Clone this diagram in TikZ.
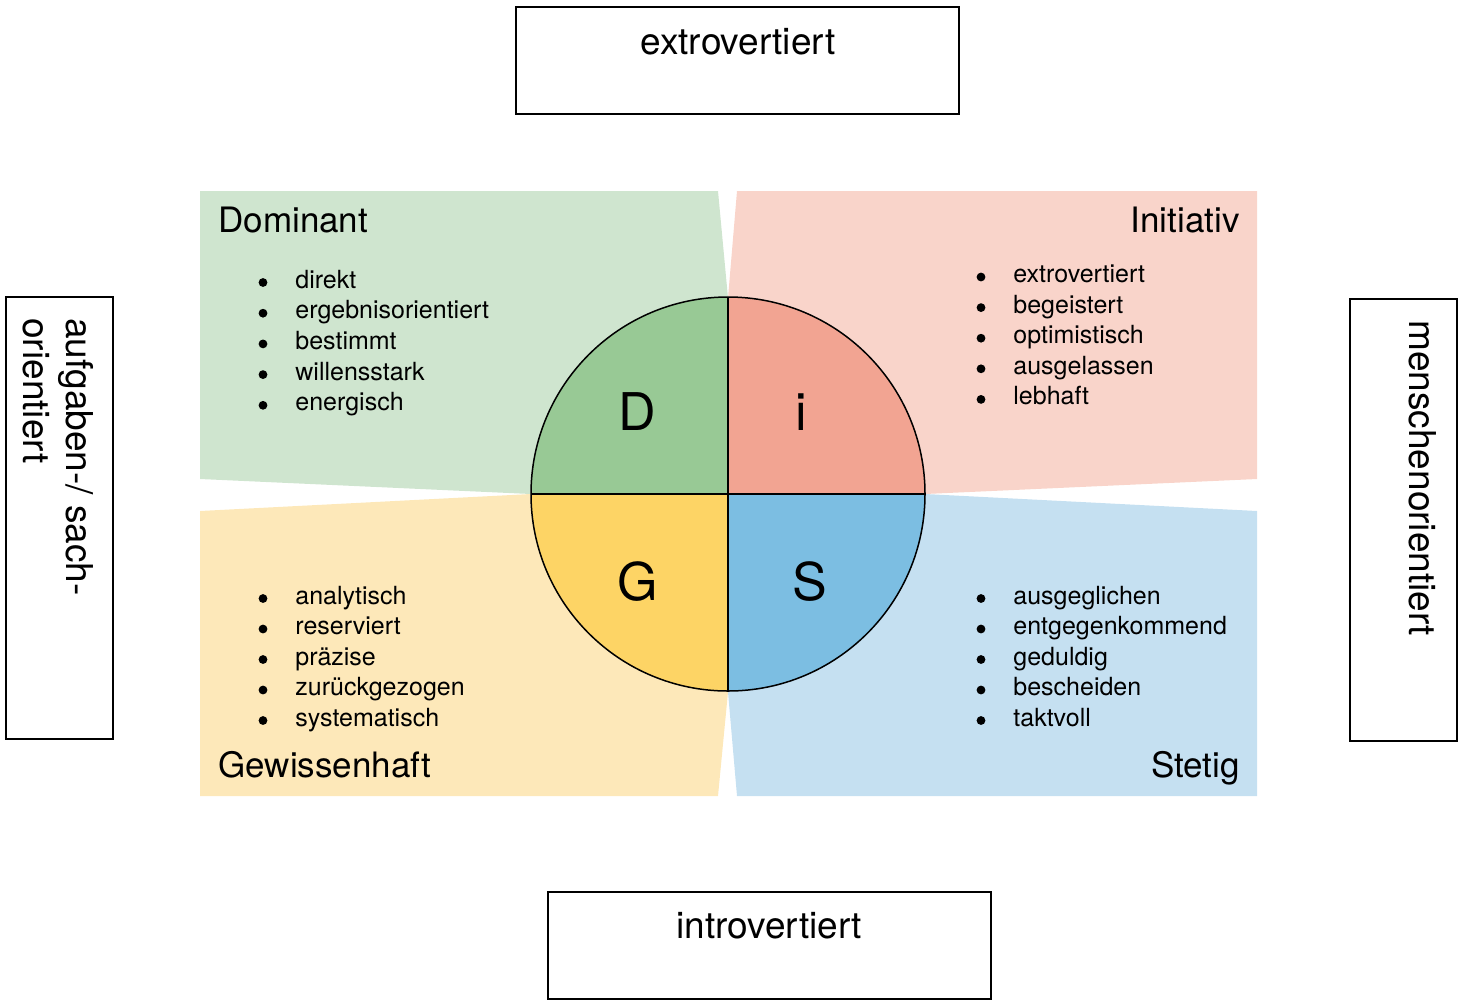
\documentclass[tikz,border=0pt]{standalone}
\usepackage{fontspec}
\setmainfont{TeX Gyre Heros}
\definecolor{bgG}{RGB}{207,229,207}
\definecolor{bgI}{RGB}{249,212,202}
\definecolor{bgY}{RGB}{253,232,185}
\definecolor{bgB}{RGB}{197,224,241}
\definecolor{cG}{RGB}{152,201,149}
\definecolor{cI}{RGB}{242,164,146}
\definecolor{cY}{RGB}{253,212,101}
\definecolor{cB}{RGB}{124,190,226}
\begin{document}
\begin{tikzpicture}[x=0.5pt,y=-0.5pt,
  head/.style={font=\fontsize{17.5}{21}\selectfont, inner sep=0pt},
  item/.style={font=\fontsize{12.5}{15}\selectfont, inner sep=0pt, anchor=base west},
  bul/.style={circle, fill=black, inner sep=0pt, minimum size=4.4pt},
  big/.style={font=\fontsize{26}{30}\selectfont, inner sep=0pt, anchor=base},
  lab/.style={font=\fontsize{18.5}{22}\selectfont, inner sep=0pt},
  box/.style={draw=black, line width=1pt, fill=white, inner sep=0pt},
  hbox/.style={box, minimum width=221.5pt, minimum height=53.5pt},
  vbox/.style={box, minimum width=53.5pt, minimum height=221pt},
  ring/.style={draw=black, line width=0.75pt}
]
\useasboundingbox (0,0) rectangle (1465,1002);
\coordinate (c) at (728,494);
% background sectors
\fill[bgG] (200,191) -- (718,191) -- (728,298) -- (c) -- (531,494) -- (200,479) -- cycle;
\fill[bgI] (737,191) -- (1257,191) -- (1257,479) -- (925,494) -- (c) -- (728,298) -- cycle;
\fill[bgY] (200,511) -- (531,494) -- (c) -- (728,692) -- (718,796) -- (200,796) -- cycle;
\fill[bgB] (925,494) -- (1257,511) -- (1257,796) -- (737,796) -- (728,692) -- (c) -- cycle;
% circle quadrants
\fill[cG] (c) -- ++(-197,0) arc[start angle=180,end angle=270,radius=197] -- cycle;
\fill[cI] (c) -- ++(0,-197) arc[start angle=270,end angle=360,radius=197] -- cycle;
\fill[cB] (c) -- ++(197,0) arc[start angle=0,end angle=90,radius=197] -- cycle;
\fill[cY] (c) -- ++(0,197) arc[start angle=90,end angle=180,radius=197] -- cycle;
\draw[ring] (c) circle[radius=197];
\draw[ring] (531,494) -- (925,494);
\draw[ring] (728,297) -- (728,691);
% big letters
\node[big] (bD) at (637,430) {D};
\node[big] (bI) at (801,430) {i};
\node[big] (bG) at (638,600) {G};
\node[big] (bS) at (810,600) {S};
% headings
\node[head, anchor=base west] (hD) at (218,232) {Dominant};
\node[head, anchor=base east] (hI) at (1240,232) {Initiativ};
\node[head, anchor=base west] (hG) at (218,777) {Gewissenhaft};
\node[head, anchor=base east] (hS) at (1240,777) {Stetig};
% lists
\foreach \w [count=\i] in {direkt,ergebnisorientiert,bestimmt,willensstark,energisch}{
  \node[bul] (dB\i) at (263,{282.5+30.7*(\i-1)}) {};
  \node[item] (dT\i) at (295,{288+30.7*(\i-1)}) {\w};
}
\foreach \w [count=\i] in {extrovertiert,begeistert,optimistisch,ausgelassen,lebhaft}{
  \node[bul] (iB\i) at (981,{277+30.6*(\i-1)}) {};
  \node[item] (iT\i) at (1013,{282.5+30.6*(\i-1)}) {\w};
}
\foreach \w [count=\i] in {analytisch,reserviert,präzise,zurückgezogen,systematisch}{
  \node[bul] (gB\i) at (263,{598.5+30.5*(\i-1)}) {};
  \node[item] (gT\i) at (295,{604+30.5*(\i-1)}) {\w};
}
\foreach \w [count=\i] in {ausgeglichen,entgegenkommend,geduldig,bescheiden,taktvoll}{
  \node[bul] (sB\i) at (981,{598.5+30.5*(\i-1)}) {};
  \node[item] (sT\i) at (1013,{604+30.5*(\i-1)}) {\w};
}
% outer boxes
\node[hbox] (top) at (737.5,60.5) {};
\node[lab, anchor=base] (topT) at (738,54) {extrovertiert};
\node[hbox] (bot) at (769.5,945.5) {};
\node[lab, anchor=base] (botT) at (769,938) {introvertiert};
\node[vbox] (left) at (59.5,518) {};
\node[lab, rotate=-90, anchor=base west] (leftT1) at (66,318) {aufgaben-/ sach-};
\node[lab, rotate=-90, anchor=base west] (leftT2) at (24,318) {orientiert};
\node[vbox] (right) at (1403,520) {};
\node[lab, rotate=-90, anchor=base west] (rightT) at (1409,320) {menschenorientiert};
\end{tikzpicture}
\end{document}
